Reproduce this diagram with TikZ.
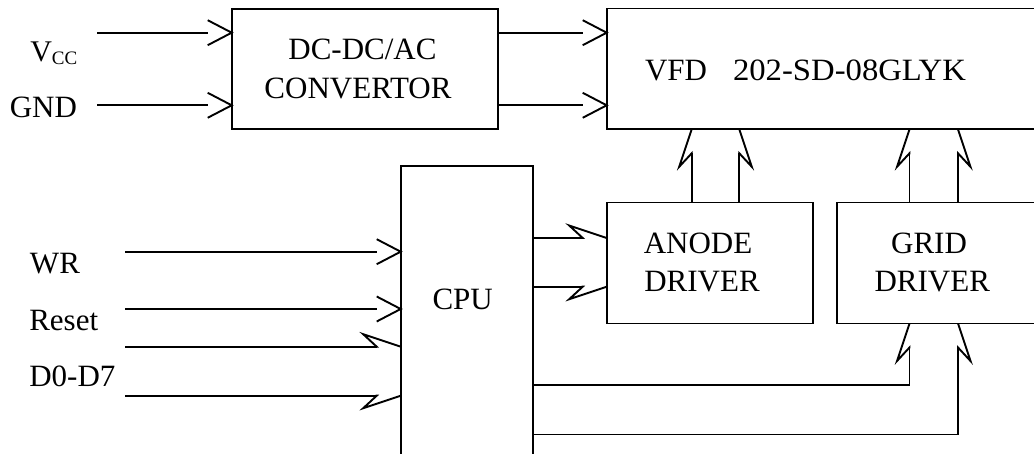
\documentclass[tikz,border=0pt]{standalone}
\usepackage{fontspec}
\setmainfont{Liberation Serif}
\usetikzlibrary{arrows.meta}
\pgfdeclarearrow{
  name = rsV,
  setup code = {
    \pgfarrowssettipend{0pt}
    \pgfarrowssetbackend{-24pt}
    \pgfarrowssetlineend{-24pt}
    \pgfarrowssetvisualbackend{-24pt}
    \pgfarrowshullpoint{0pt}{0pt}
    \pgfarrowshullpoint{-24pt}{12.5pt}
    \pgfarrowshullpoint{-24pt}{-12.5pt}
  },
  drawing code = {
    \pgfpathmoveto{\pgfqpoint{-24pt}{12.5pt}}
    \pgfpathlineto{\pgfqpoint{0pt}{0pt}}
    \pgfpathlineto{\pgfqpoint{-24pt}{-12.5pt}}
    \pgfusepathqstroke
  }
}
\pgfdeclarearrow{
  name = zigL,
  setup code = {
    \pgfarrowssettipend{0pt}
    \pgfarrowssetbackend{-37.5pt}
    \pgfarrowssetlineend{-24pt}
    \pgfarrowssetvisualbackend{-24pt}
    \pgfarrowshullpoint{0pt}{0pt}
    \pgfarrowshullpoint{-37.5pt}{12.5pt}
    \pgfarrowshullpoint{-24pt}{0pt}
  },
  drawing code = {
    \pgfpathmoveto{\pgfqpoint{-25pt}{0pt}}
    \pgfpathlineto{\pgfqpoint{-24pt}{0pt}}
    \pgfpathlineto{\pgfqpoint{-37.5pt}{12.5pt}}
    \pgfpathlineto{\pgfqpoint{0pt}{0pt}}
    \pgfusepathqstroke
  }
}
\pgfdeclarearrow{
  name = zigR,
  setup code = {
    \pgfarrowssettipend{0pt}
    \pgfarrowssetbackend{-37.5pt}
    \pgfarrowssetlineend{-24pt}
    \pgfarrowssetvisualbackend{-24pt}
    \pgfarrowshullpoint{0pt}{0pt}
    \pgfarrowshullpoint{-37.5pt}{-12.5pt}
    \pgfarrowshullpoint{-24pt}{0pt}
  },
  drawing code = {
    \pgfpathmoveto{\pgfqpoint{-25pt}{0pt}}
    \pgfpathlineto{\pgfqpoint{-24pt}{0pt}}
    \pgfpathlineto{\pgfqpoint{-37.5pt}{-12.5pt}}
    \pgfpathlineto{\pgfqpoint{0pt}{0pt}}
    \pgfusepathqstroke
  }
}
\tikzset{
  blk/.style={draw, inner sep=0pt, outer sep=0pt, anchor=north west},
  lbl/.style={inner sep=0pt, outer sep=0pt, font=\fontsize{31}{37}\selectfont},
  varr/.style={-rsV},
  zl/.style={-zigL},
  zr/.style={-zigR}
}
\begin{document}
\begin{tikzpicture}[x=1pt, y=-1pt, line width=1.9pt]
\useasboundingbox (0,0) rectangle (1034,454);
\clip (0,0) rectangle (1034,454);
\fill[white] (0,0) rectangle (1034,454);
% boxes
\node[blk, minimum width=266.6pt, minimum height=120pt] (conv) at (231.7,9) {};
\node[blk, minimum width=500pt, minimum height=120.8pt] (vfd) at (606.7,8.5) {};
\node[blk, minimum width=132.3pt, minimum height=320pt] (cpu) at (400.7,166) {};
\node[blk, minimum width=206pt, minimum height=121pt] (anode) at (606.7,202.5) {};
\node[blk, minimum width=300pt, minimum height=121pt] (grid) at (837,202.5) {};
% texts
\node[lbl, anchor=base east] (vcc) at (77.3,61.5) {\fontsize{30}{35}\selectfont V\raisebox{-3.5pt}{\fontsize{19}{19}\selectfont CC}};
\node[lbl, anchor=base east] (gnd) at (77,118) {GND};
\node[lbl, anchor=base] (convt1) at (362.5,60) {DC-DC/AC};
\node[lbl, anchor=base] (convt2) at (358,99) {CONVERTOR};
\node[lbl, anchor=base west] (vfdt) at (645,80.7) {VFD\hspace*{26pt}\scalebox{1.055}[1]{202-SD-08GLYK}};
\node[lbl, anchor=base] (cput) at (462.7,310) {CPU};
\node[lbl, anchor=base] (anodet1) at (698,253.3) {ANODE};
\node[lbl, anchor=base] (anodet2) at (702,291.7) {DRIVER};
\node[lbl, anchor=base] (gridt1) at (929,253.3) {GRID};
\node[lbl, anchor=base] (gridt2) at (932.3,291.7) {DRIVER};
\node[lbl, anchor=base west] (wr) at (30,273.3) {WR};
\node[lbl, anchor=base west] (rst) at (29.3,330.7) {Reset};
\node[lbl, anchor=base west] (dd) at (29.3,386.7) {D0-D7};
% connector anchors
\coordinate (vccS) at (97.3,32.7);
\coordinate (gndS) at (97.3,105.3);
\coordinate (wrS) at (125,251.7);
\coordinate (rstS) at (125,309);
\coordinate (inS) at (125,346.7);
\coordinate (dS) at (125,395.7);
\coordinate (ya1) at (0,238);
\coordinate (ya2) at (0,286.7);
\coordinate (xa1) at (691.7,0);
\coordinate (xa2) at (739.3,0);
\coordinate (xg1) at (909.5,0);
\coordinate (xg2) at (958,0);
\coordinate (yb1) at (0,385.1);
\coordinate (yb2) at (0,434.5);
% connectors
\draw[varr] (vccS) -- (conv.west |- vccS);
\draw[varr] (gndS) -- (conv.west |- gndS);
\draw[varr] (conv.east |- vccS) -- (vfd.west |- vccS);
\draw[varr] (conv.east |- gndS) -- (vfd.west |- gndS);
\draw[varr] (wrS) -- (cpu.west |- wrS);
\draw[varr] (rstS) -- (cpu.west |- rstS);
\draw[zl] (inS) -- (cpu.west |- inS);
\draw[zr] (dS) -- (cpu.west |- dS);
\draw[zl] (cpu.east |- ya1) -- (anode.west |- ya1);
\draw[zr] (cpu.east |- ya2) -- (anode.west |- ya2);
\draw[zl] (anode.north -| xa1) -- (vfd.south -| xa1);
\draw[zr] (anode.north -| xa2) -- (vfd.south -| xa2);
\draw[zl] (grid.north -| xg1) -- (vfd.south -| xg1);
\draw[zr] (grid.north -| xg2) -- (vfd.south -| xg2);
\draw[zl] (cpu.east |- yb1) -| (grid.south -| xg1);
\draw[zr] (cpu.east |- yb2) -| (grid.south -| xg2);
\end{tikzpicture}
\end{document}
